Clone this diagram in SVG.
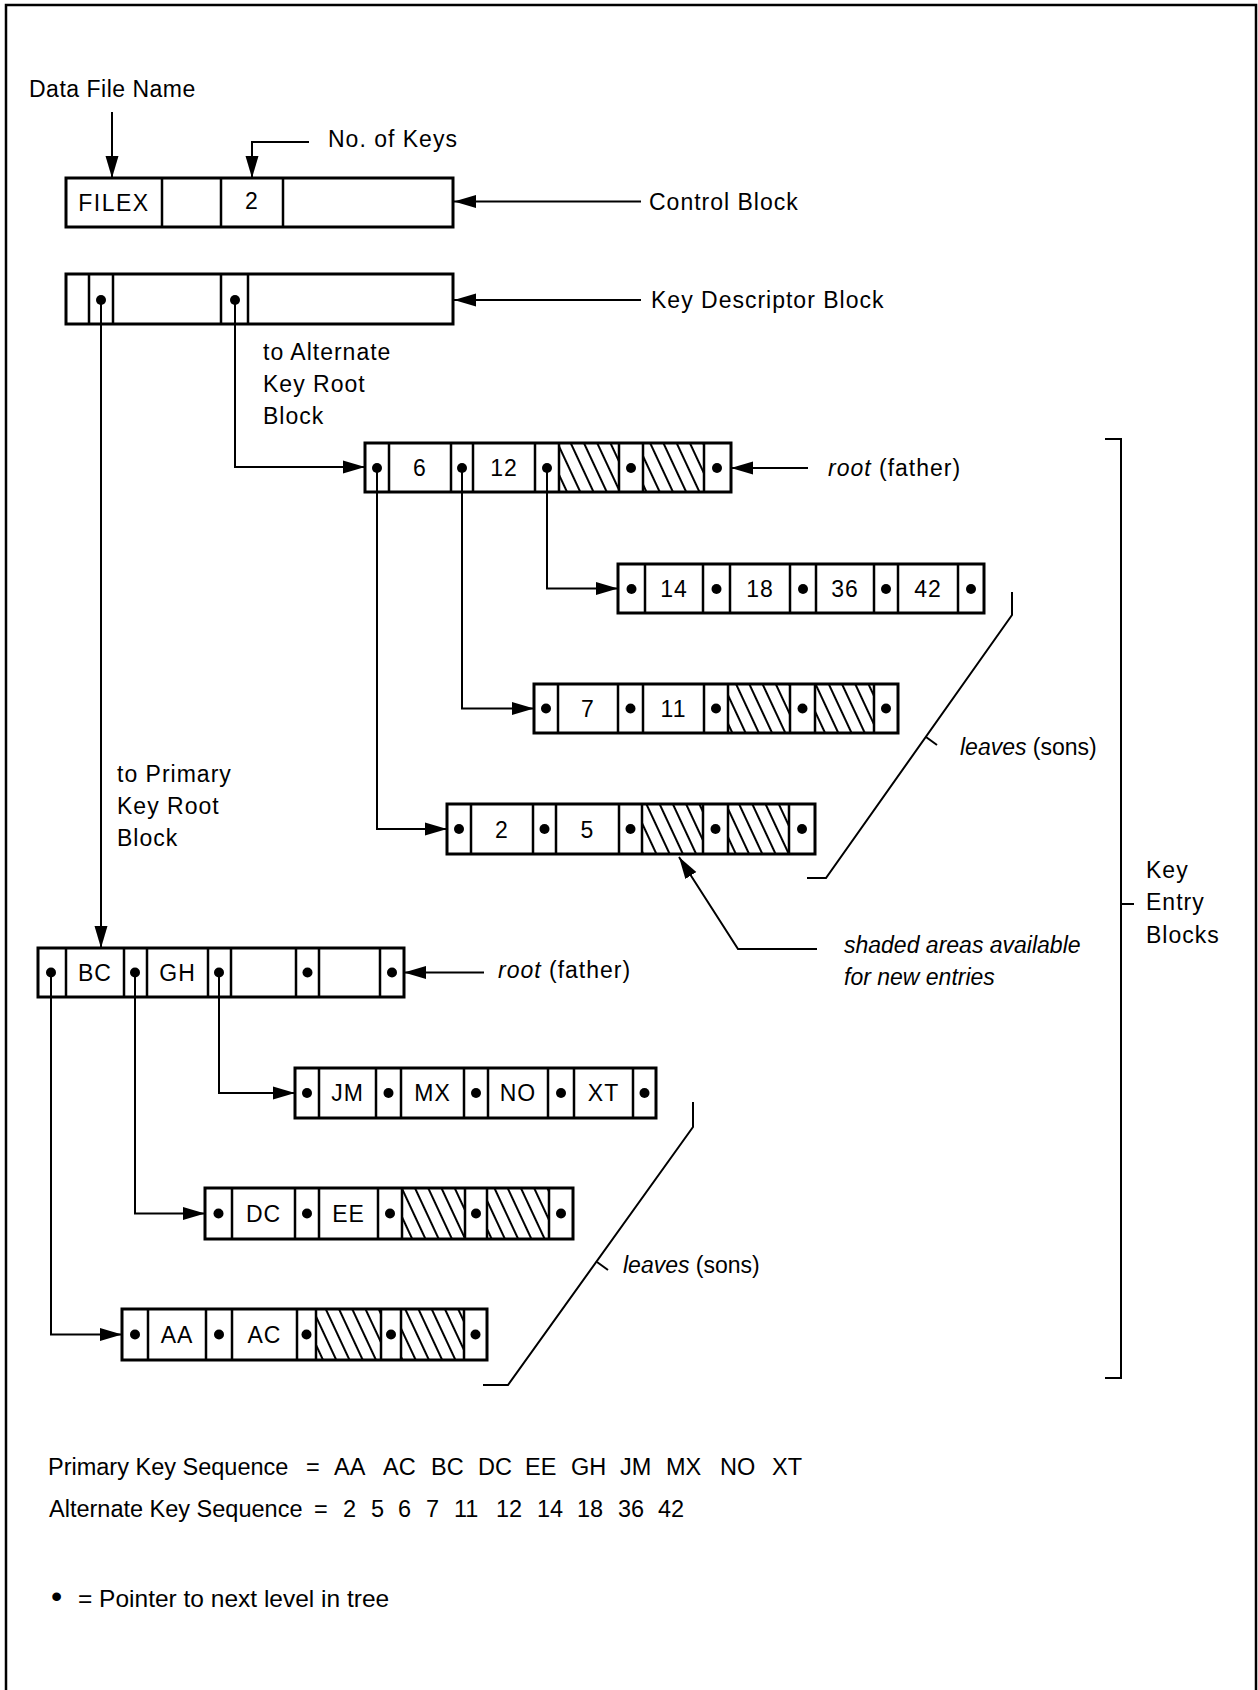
<svg xmlns="http://www.w3.org/2000/svg" width="1258" height="1690" viewBox="0 0 1258 1690">
<style>
.blk{fill:none;stroke:#000;stroke-width:3}
.div{fill:none;stroke:#000;stroke-width:2.5}
.hat{fill:url(#hatch);stroke:none}
.dot{fill:#000}
.con{fill:none;stroke:#000;stroke-width:2}
.arr{marker-end:url(#ah)}
text{font-family:"Liberation Sans",Arial,sans-serif;fill:#000}
.lbl{font-size:23px;letter-spacing:1px}
.cell{font-size:23px;letter-spacing:1px;text-anchor:middle}
.seq{font-size:23.5px}
.it{font-style:italic}
</style>
<defs>
<marker id="ah" markerUnits="userSpaceOnUse" markerWidth="24" markerHeight="14" refX="22" refY="7" orient="auto">
<path d="M0,0.5 L22,7 L0,13.5 z" fill="#000"/>
</marker>
<pattern id="hatch" patternUnits="userSpaceOnUse" width="12" height="12" patternTransform="rotate(-25)">
<line x1="6" y1="-2" x2="6" y2="14" stroke="#000" stroke-width="2"/>
</pattern>
</defs>
<rect width="1258" height="1690" fill="#fff"/>
<path d="M6,1690 V5 H1256 V1690" fill="none" stroke="#000" stroke-width="2.5"/>

<g id="control-block">
<rect class="blk" x="66" y="178" width="387" height="49"/>
<path class="div" d="M162,178V227M221,178V227M283,178V227"/>
<text class="cell" x="114" y="211" style="letter-spacing:1.5px">FILEX</text>
<text class="cell" x="252" y="209">2</text>
</g>

<g id="key-descriptor-block">
<rect class="blk" x="66" y="274" width="387" height="50"/>
<path class="div" d="M89,274V324M113,274V324M221,274V324M248,274V324"/>
<circle class="dot" cx="101" cy="300" r="5"/>
<circle class="dot" cx="235" cy="300" r="5"/>
</g>

<g id="alt-root">
<rect class="hat" x="559" y="443" width="60" height="49"/>
<rect class="hat" x="643" y="443" width="61" height="49"/>
<rect class="blk" x="365" y="443" width="366" height="49"/>
<path class="div" d="M389,443V492M451,443V492M473,443V492M535,443V492M559,443V492M619,443V492M643,443V492M704,443V492"/>
<circle class="dot" cx="377" cy="468" r="5"/>
<circle class="dot" cx="462" cy="468" r="5"/>
<circle class="dot" cx="547" cy="468" r="5"/>
<circle class="dot" cx="631" cy="468" r="5"/>
<circle class="dot" cx="717" cy="468" r="5"/>
<text class="cell" x="420" y="476">6</text>
<text class="cell" x="504" y="476">12</text>
</g>

<g id="alt-leaf-1">
<rect class="blk" x="618" y="564" width="366" height="49"/>
<path class="div" d="M645,564V613M703,564V613M730,564V613M790,564V613M816,564V613M874,564V613M898,564V613M958,564V613"/>
<circle class="dot" cx="631.5" cy="589" r="5"/>
<circle class="dot" cx="716.5" cy="589" r="5"/>
<circle class="dot" cx="803" cy="589" r="5"/>
<circle class="dot" cx="886" cy="589" r="5"/>
<circle class="dot" cx="971" cy="589" r="5"/>
<text class="cell" x="674" y="597">14</text>
<text class="cell" x="760" y="597">18</text>
<text class="cell" x="845" y="597">36</text>
<text class="cell" x="928" y="597">42</text>
</g>

<g id="alt-leaf-2">
<rect class="hat" x="728" y="684" width="62" height="49"/>
<rect class="hat" x="815" y="684" width="59" height="49"/>
<rect class="blk" x="534" y="684" width="364" height="49"/>
<path class="div" d="M558,684V733M618,684V733M643,684V733M704,684V733M728,684V733M790,684V733M815,684V733M874,684V733"/>
<circle class="dot" cx="546" cy="708.5" r="5"/>
<circle class="dot" cx="630.5" cy="708.5" r="5"/>
<circle class="dot" cx="716" cy="708.5" r="5"/>
<circle class="dot" cx="802.5" cy="708.5" r="5"/>
<circle class="dot" cx="886" cy="708.5" r="5"/>
<text class="cell" x="588" y="717">7</text>
<text class="cell" x="673.5" y="717">11</text>
</g>

<g id="alt-leaf-3">
<rect class="hat" x="642" y="804" width="61" height="50"/>
<rect class="hat" x="728" y="804" width="61" height="50"/>
<rect class="blk" x="447" y="804" width="368" height="50"/>
<path class="div" d="M471,804V854M533,804V854M556,804V854M619,804V854M642,804V854M703,804V854M728,804V854M789,804V854"/>
<circle class="dot" cx="459" cy="829" r="5"/>
<circle class="dot" cx="544.5" cy="829" r="5"/>
<circle class="dot" cx="630.5" cy="829" r="5"/>
<circle class="dot" cx="715.5" cy="829" r="5"/>
<circle class="dot" cx="802" cy="829" r="5"/>
<text class="cell" x="502" y="838">2</text>
<text class="cell" x="587.5" y="838">5</text>
</g>

<g id="prim-root">
<rect class="blk" x="38" y="948" width="366" height="49"/>
<path class="div" d="M66,948V997M124,948V997M147,948V997M208,948V997M231,948V997M296,948V997M319,948V997M380,948V997"/>
<circle class="dot" cx="51" cy="972.5" r="5"/>
<circle class="dot" cx="135" cy="972.5" r="5"/>
<circle class="dot" cx="219" cy="972.5" r="5"/>
<circle class="dot" cx="307.5" cy="972.5" r="5"/>
<circle class="dot" cx="392" cy="972.5" r="5"/>
<text class="cell" x="95" y="981">BC</text>
<text class="cell" x="177.5" y="981">GH</text>
</g>

<g id="prim-leaf-1">
<rect class="blk" x="295" y="1068" width="361" height="50"/>
<path class="div" d="M319,1068V1118M376,1068V1118M401,1068V1118M464,1068V1118M488,1068V1118M548,1068V1118M574,1068V1118M633,1068V1118"/>
<circle class="dot" cx="307" cy="1093" r="5"/>
<circle class="dot" cx="388.5" cy="1093" r="5"/>
<circle class="dot" cx="476" cy="1093" r="5"/>
<circle class="dot" cx="561" cy="1093" r="5"/>
<circle class="dot" cx="644.5" cy="1093" r="5"/>
<text class="cell" x="347.5" y="1101">JM</text>
<text class="cell" x="432.5" y="1101">MX</text>
<text class="cell" x="518" y="1101">NO</text>
<text class="cell" x="603.5" y="1101">XT</text>
</g>

<g id="prim-leaf-2">
<rect class="hat" x="402" y="1188" width="63" height="51"/>
<rect class="hat" x="487" y="1188" width="62" height="51"/>
<rect class="blk" x="205" y="1188" width="368" height="51"/>
<path class="div" d="M232,1188V1239M295,1188V1239M319,1188V1239M378,1188V1239M402,1188V1239M465,1188V1239M487,1188V1239M549,1188V1239"/>
<circle class="dot" cx="218.5" cy="1213.5" r="5"/>
<circle class="dot" cx="307" cy="1213.5" r="5"/>
<circle class="dot" cx="390" cy="1213.5" r="5"/>
<circle class="dot" cx="476" cy="1213.5" r="5"/>
<circle class="dot" cx="561" cy="1213.5" r="5"/>
<text class="cell" x="263.5" y="1222">DC</text>
<text class="cell" x="348.5" y="1222">EE</text>
</g>

<g id="prim-leaf-3">
<rect class="hat" x="316" y="1309" width="65" height="51"/>
<rect class="hat" x="401" y="1309" width="63" height="51"/>
<rect class="blk" x="122" y="1309" width="365" height="51"/>
<path class="div" d="M148,1309V1360M206,1309V1360M232,1309V1360M297,1309V1360M316,1309V1360M381,1309V1360M401,1309V1360M464,1309V1360"/>
<circle class="dot" cx="135" cy="1334.5" r="5"/>
<circle class="dot" cx="219" cy="1334.5" r="5"/>
<circle class="dot" cx="306.5" cy="1334.5" r="5"/>
<circle class="dot" cx="391" cy="1334.5" r="5"/>
<circle class="dot" cx="475.5" cy="1334.5" r="5"/>
<text class="cell" x="177" y="1343">AA</text>
<text class="cell" x="264.5" y="1343">AC</text>
</g>

<g id="connectors">
<path class="con arr" d="M112,112 V178"/>
<path class="con arr" d="M309,142 H252 V178"/>
<path class="con arr" d="M641,201.5 H454"/>
<path class="con arr" d="M641,300 H454"/>
<path class="con arr" d="M101,300 V948"/>
<path class="con arr" d="M235,300 V467 H365"/>
<path class="con arr" d="M808,468 H731"/>
<path class="con arr" d="M377,468 V829 H447"/>
<path class="con arr" d="M462,468 V708.5 H534"/>
<path class="con arr" d="M547,468 V588.5 H618"/>
<path class="con arr" d="M817,949 H738 L679,857"/>
<path class="con arr" d="M484,972.5 H404"/>
<path class="con arr" d="M219,972.5 V1093 H295"/>
<path class="con arr" d="M135,972.5 V1213.5 H205"/>
<path class="con arr" d="M51,972.5 V1334.5 H122"/>
<path class="con" d="M1012,592 V615 L826,878 H807"/>
<path class="con" d="M926,737 l11,8"/>
<path class="con" d="M693,1102 V1127 L508,1385 H483"/>
<path class="con" d="M597,1262 l11,8"/>
<path class="con" d="M1105,439 H1121 V1378 H1105"/>
<path class="con" d="M1121,904 H1134"/>
</g>

<g id="labels">
<text class="lbl" x="29" y="97" style="letter-spacing:0.5px">Data File Name</text>
<text class="lbl" x="328" y="147">No. of Keys</text>
<text class="lbl" x="649" y="210">Control Block</text>
<text class="lbl" x="651" y="308">Key Descriptor Block</text>
<text class="lbl" x="263" y="360">to Alternate</text>
<text class="lbl" x="263" y="392">Key Root</text>
<text class="lbl" x="263" y="424">Block</text>
<text class="lbl" x="828" y="476"><tspan class="it">root</tspan> (father)</text>
<text class="lbl" x="960" y="755" style="letter-spacing:0"><tspan class="it">leaves</tspan> (sons)</text>
<text class="lbl it" x="844" y="953" style="letter-spacing:0">shaded areas available</text>
<text class="lbl it" x="844" y="985" style="letter-spacing:0">for new entries</text>
<text class="lbl" x="1146" y="878">Key</text>
<text class="lbl" x="1146" y="910">Entry</text>
<text class="lbl" x="1146" y="943">Blocks</text>
<text class="lbl" x="117" y="782">to Primary</text>
<text class="lbl" x="117" y="814">Key Root</text>
<text class="lbl" x="117" y="846">Block</text>
<text class="lbl" x="498" y="978"><tspan class="it">root</tspan> (father)</text>
<text class="lbl" x="623" y="1273" style="letter-spacing:0"><tspan class="it">leaves</tspan> (sons)</text>
<text class="seq" y="1475"><tspan x="48">Primary Key Sequence</tspan><tspan x="306">=</tspan><tspan x="334">AA</tspan><tspan x="383">AC</tspan><tspan x="431">BC</tspan><tspan x="478">DC</tspan><tspan x="525">EE</tspan><tspan x="571">GH</tspan><tspan x="620">JM</tspan><tspan x="666">MX</tspan><tspan x="720">NO</tspan><tspan x="772">XT</tspan></text>
<text class="seq" y="1517"><tspan x="49">Alternate Key Sequence</tspan><tspan x="314">=</tspan><tspan x="343">2</tspan><tspan x="371">5</tspan><tspan x="398">6</tspan><tspan x="426">7</tspan><tspan x="454">11</tspan><tspan x="496">12</tspan><tspan x="537">14</tspan><tspan x="577">18</tspan><tspan x="618">36</tspan><tspan x="658">42</tspan></text>
<text class="seq" y="1607" style="font-size:24.5px"><tspan x="51" style="font-size:32px">•</tspan><tspan x="78">= Pointer to next level in tree</tspan></text>
</g>
</svg>
